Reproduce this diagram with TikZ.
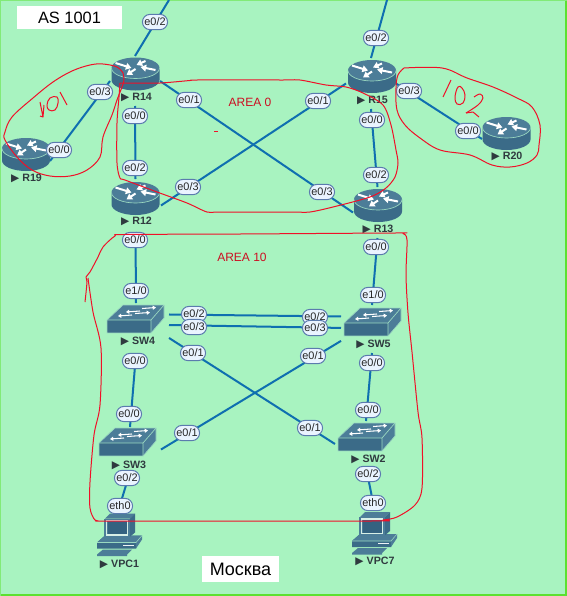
\documentclass[tikz,border=0pt]{standalone}
\usepackage{fontspec}
\setmainfont{Liberation Sans}
\newfontfamily\symfont{DejaVu Sans}
\usetikzlibrary{arrows.meta}
\definecolor{bgc}{HTML}{A8F3C0}
\definecolor{edgec}{HTML}{5CE030}
\definecolor{linkc}{HTML}{0F6FB0}
\definecolor{lblfill}{HTML}{EAF4FF}
\definecolor{lbledge}{HTML}{5B7BAE}
\definecolor{devtop}{HTML}{4C7D98}
\definecolor{devside}{HTML}{3B6B88}
\definecolor{devdark}{HTML}{346280}
\definecolor{devrim}{HTML}{9AD8C0}
\definecolor{penred}{HTML}{F01028}
\definecolor{devtxt}{HTML}{2F3A3F}
\tikzset{
  devbox/.style 2 args={minimum width=#1*0.75pt,minimum height=#2*0.75pt,inner sep=0pt,outer sep=0pt},
  link/.style={draw=linkc,line width=1.5pt},
  lbl/.style={draw=lbledge,fill=lblfill,line width=0.75pt,rounded corners=5.6pt,
    minimum width=18.8pt,minimum height=11.4pt,inner sep=0pt,font=\fontsize{8.2}{9}\selectfont,text=black!85},
  devname/.style={inner sep=0pt,font=\fontsize{8}{9}\selectfont\bfseries,text=devtxt},
  pen/.style={draw=penred,line width=0.75pt,line join=round},
  area/.style={inner sep=0pt,font=\fontsize{9}{11}\selectfont,text=penred!85!black},
  whitearrow/.style={white,line width=1.5pt,-{Triangle[length=4.2pt,width=5pt]}},
  thinarrow/.style={white,line width=0.8pt,-{Triangle[length=2.4pt,width=3pt]}},
  router/.pic={
    \fill[devside] (-24,0) -- (-24,12) arc[start angle=180,end angle=360,x radius=24,y radius=-10.5] -- (24,0) -- cycle;
    \fill[devtop] (0,0) ellipse[x radius=24,y radius=10.5];
    \draw[devrim,line width=0.5pt] (-24,0) arc[start angle=180,end angle=360,x radius=24,y radius=-10.5];
    \draw[whitearrow] (-20,-5) -- (-4,0);
    \draw[whitearrow] (10,-7) -- (1,-3);
    \draw[whitearrow] (0,1) -- (-9,7);
    \draw[whitearrow] (20,2) -- (5,-1);
  },
  lanswitch/.pic={
    \fill[devtop] (0,15) -- (16,0) -- (57,0) -- (44,15) -- cycle;
    \fill[devside] (0,15) -- (44,15) -- (44,28) -- (0,28) -- cycle;
    \fill[devtop] (44,15) -- (57,0) -- (57,13) -- (44,28) -- cycle;
    \draw[devrim,line width=0.5pt,line join=round] (0,28) -- (0,15) -- (16,0) -- (57,0) -- (57,13) -- (44,28) -- cycle;
    \draw[devrim,line width=0.5pt,line join=round] (0,15) -- (44,15) -- (57,0) (44,15) -- (44,28);
    \draw[thinarrow] (33,6) -- (19,7);
    \draw[thinarrow] (35,3.5) -- (49,2.5);
    \draw[thinarrow] (25,10) -- (11,11);
    \draw[thinarrow] (28,8.5) -- (43,7.5);
  },
  pcicon/.pic={
    \fill[devside] (-6,29) -- (2,22) -- (39,22) -- (33,29) -- (33,35) -- (-6,35) -- cycle;
    \fill[devtop] (-6,29) -- (2,22) -- (39,22) -- (33,29) -- cycle;
    \fill[devtop] (33,29) -- (39,22) -- (39,26) -- (33,35) -- cycle;
    \draw[devrim,line width=0.4pt] (-6,29) -- (33,29) -- (39,22);
    \fill[white!90!devtop] (20,31) rectangle (31,32.4);
    \fill[devtop] (-6,41) -- (0,36) -- (29,36) -- (24,41) -- (24,42.5) -- (-6,42.5) -- cycle;
    \fill[devtop] (2,5) -- (7,0) -- (32,0) -- (27,5) -- cycle;
    \fill[devside] (27,5) -- (32,0) -- (32,19) -- (26,24) -- cycle;
    \fill[devtop] (1,5) rectangle (27,24);
    \draw[white!60!devrim,line width=0.9pt] (3.5,7) rectangle (24.5,21.5);
    \fill[devdark] (4.5,8) rectangle (23.5,20.5);
  }
}
\begin{document}
\begin{tikzpicture}[x=0.75pt,y=-0.75pt]
\useasboundingbox (0,0) rectangle (567,596);
\fill[bgc] (0,0) rectangle (567,596);
\fill[edgec] (565,0) rectangle (567,596);
\fill[edgec] (0,594) rectangle (567,596);
\fill[edgec!50!bgc] (0,0) rectangle (1,596);
\fill[edgec!50!bgc] (0,0) rectangle (567,1);

% connection boxes of the devices
\node[devbox={50}{50}] (R14) at (135,81) {};
\node[devbox={51}{53}] (R12) at (135.5,205.5) {};
\node[devbox={48}{40}] (R19) at (26,161) {};
\node[devbox={50}{51}] (R15) at (371,83.5) {};
\node[devbox={49}{51}] (R13) at (377.5,212.5) {};
\node[devbox={50}{40}] (R20) at (507,139) {};
\node[devbox={66}{51}] (SW4) at (136,328.5) {};
\node[devbox={62}{48}] (SW5) at (372,329) {};
\node[devbox={62}{45}] (SW3) at (130,449.5) {};
\node[devbox={62}{46}] (SW2) at (366,444) {};
\node[devbox={46}{50}] (VPC1) at (120,530) {};
\node[devbox={46}{48}] (VPC7) at (373.5,529) {};
\coordinate (up14) at (169,0);
\coordinate (up15) at (387,0);

% connectors
\draw[link] (up14) -- (R14.north);
\draw[link] (up15) -- (R15.north);
\draw[link] (R14.west) -- (R19.east);
\draw[link] (R14.south) -- (R12.north);
\draw[link] (R14.east) -- (R13.west);
\draw[link] (R15.west) -- (R12.east);
\draw[link] (R15.south) -- (R13.north);
\draw[link] (R15.east) -- (R20.west);
\draw[link] (R12.south) -- (SW4.north);
\draw[link] (R13.south) -- (SW5.north);
\draw[link] (SW4.23.7) -- (SW5.158.84);
\draw[link] (SW4.6) -- (SW5.178.15);
\draw[link] (SW4.-16) -- (SW2.west);
\draw[link] (SW5.201.16) -- (SW3.east);
\draw[link] (SW4.south) -- (SW3.north);
\draw[link] (SW5.south) -- (SW2.north);
\draw[link] (SW3.south) -- (VPC1.north);
\draw[link] (SW2.south) -- (VPC7.north);

% icons
\pic at (135.5,68) {router};
\pic at (135.5,192.5) {router};
\pic at (26,148.5) {router};
\pic at (372,70.5) {router};
\pic at (378,199.5) {router};
\pic at (506.5,127.5) {router};
\pic at (107,305) {lanswitch};
\pic at (344,308) {lanswitch};
\pic at (99,428) {lanswitch};
\pic at (338,423) {lanswitch};
\pic at (103,513.5) {pcicon};
\pic at (358,512) {pcicon};

% device names
\node[devname] (nR14) at (136.5,97) {{\symfont ▶} R14};
\node[devname] (nR19) at (26.5,178) {{\symfont ▶} R19};
\node[devname] (nR12) at (136.5,221) {{\symfont ▶} R12};
\node[devname] (nR15) at (372.5,100) {{\symfont ▶} R15};
\node[devname] (nR13) at (378,229) {{\symfont ▶} R13};
\node[devname] (nR20) at (507,156) {{\symfont ▶} R20};
\node[devname] (nSW4) at (138,341) {{\symfont ▶} SW4};
\node[devname] (nSW5) at (373.5,344) {{\symfont ▶} SW5};
\node[devname] (nSW3) at (129,465) {{\symfont ▶} SW3};
\node[devname] (nSW2) at (368.5,459) {{\symfont ▶} SW2};
\node[devname] (nVPC1) at (119.5,564) {{\symfont ▶} VPC1};
\node[devname] (nVPC7) at (375,561) {{\symfont ▶} VPC7};

% interface labels
\node[lbl] (a1) at (155,22) {e0/2};
\node[lbl] (a2) at (100,92) {e0/3};
\node[lbl] (a3) at (59,150) {e0/0};
\node[lbl] (a4) at (189,100) {e0/1};
\node[lbl] (a5) at (135,116) {e0/0};
\node[lbl] (a6) at (135,168) {e0/2};
\node[lbl] (a7) at (188,187) {e0/3};
\node[lbl] (a8) at (376,38) {e0/2};
\node[lbl] (a9) at (318,101) {e0/1};
\node[lbl] (a10) at (409,91) {e0/3};
\node[lbl] (a11) at (372,120) {e0/0};
\node[lbl] (a12) at (468,131) {e0/0};
\node[lbl] (a13) at (376,175) {e0/2};
\node[lbl] (a14) at (322,192) {e0/3};
\node[lbl] (a15) at (135,240) {e0/0};
\node[lbl] (a16) at (136,291) {e1/0};
\node[lbl] (a17) at (376,247) {e0/0};
\node[lbl] (a18) at (373,295) {e1/0};
\node[lbl] (a19) at (194,314) {e0/2};
\node[lbl] (a20) at (194,327) {e0/3};
\node[lbl] (a21) at (315,317) {e0/2};
\node[lbl] (a22) at (315,328) {e0/3};
\node[lbl] (a23) at (193,353) {e0/1};
\node[lbl] (a24) at (313,356) {e0/1};
\node[lbl] (a25) at (135,361) {e0/0};
\node[lbl] (a26) at (372,363) {e0/0};
\node[lbl] (a27) at (129,414) {e0/0};
\node[lbl] (a28) at (368,410) {e0/0};
\node[lbl] (a29) at (187,433) {e0/1};
\node[lbl] (a30) at (310,428) {e0/1};
\node[lbl] (a31) at (127,478) {e0/2};
\node[lbl] (a32) at (368,474) {e0/2};
\node[lbl] (a33) at (120,506) {eth0};
\node[lbl] (a34) at (373,503) {eth0};

% title boxes
\node[fill=white,minimum width=78.75pt,minimum height=17.25pt,inner sep=0pt,font=\fontsize{12.3}{14}\selectfont] (asbox) at (69.5,17.5) {AS 1001};
\node[fill=white,minimum width=57.75pt,minimum height=19.5pt,inner sep=0pt,font=\fontsize{13.5}{16}\selectfont] (moscow) at (240.5,569) {Москва};

\node[area] (area0) at (250,102) {AREA 0};
\node[area] (area10) at (242,257) {AREA 10};

% hand-drawn outlines
\draw[pen] plot[smooth,tension=0.6] coordinates {(123,73) (117,67) (103,64) (90,65) (72,71) (53,82) (33,98) (12,117) (5,132) (5,140) (17,157) (32,170) (50,176) (70,176) (87,170) (100,157) (103,137) (112,115) (117,100) (122,87) (124,80) (123,73)};
\draw[pen] plot[smooth,tension=0.5] coordinates {(120,83) (130,83) (160,83) (190,80.5) (197,80) (283,80) (300,80) (326,85) (346,87) (363,93) (383,105) (391,125) (396,150) (398,163) (395,177) (386,188) (370,197) (333,207) (310,212) (295,212) (283,212) (220,212) (207,212) (187,203) (157,192) (125,180) (120,178) (117,163) (117,123) (119,97) (120,83)};
\draw[pen] plot[smooth,tension=0.6] coordinates {(404,68) (442,68) (467,78) (493,87) (517,98) (532,107) (540,125) (539,145) (537,155) (527,163) (510,167) (492,165) (470,155) (440,150) (420,138) (405,125) (397,110) (396,88) (398,75) (404,68)};
\draw[pen] plot[smooth,tension=0.5] coordinates {(85,302) (87,282) (86,277) (90,272) (98,257) (103,247) (115,236) (125,234.5) (240,234) (395,233) (403,233.5) (407,240) (406,275) (408,313) (412,352) (418,412) (422,438) (422,488) (415,505) (397,517) (383,520) (370,521) (115,521) (103,521) (95,520) (90,508) (90,482) (94,435) (100,405) (101,348) (93,312) (88,278)};
% hand-written numbers
\draw[pen] (40,102) -- (43,117) -- (40,116) (44,105) -- (43,117);
\draw[pen] plot[smooth cycle,tension=0.7] coordinates {(47,105) (50,98) (57,97) (58,103) (55,110) (49,110)};
\draw[pen] (60,92) -- (67,105);
\draw[pen] (451,80) -- (443,97);
\draw[pen] plot[smooth cycle,tension=0.7] coordinates {(458,87) (455,97) (457,104) (463,103) (465,95) (462,88)};
\draw[pen] plot[smooth,tension=0.6] coordinates {(474,97) (480,94) (483,98) (478,105) (466,113)};
\draw[pen] (466,113) -- (473,112) -- (479,117);
\draw[pen] (214,131) -- (218,131);
\end{tikzpicture}
\end{document}
